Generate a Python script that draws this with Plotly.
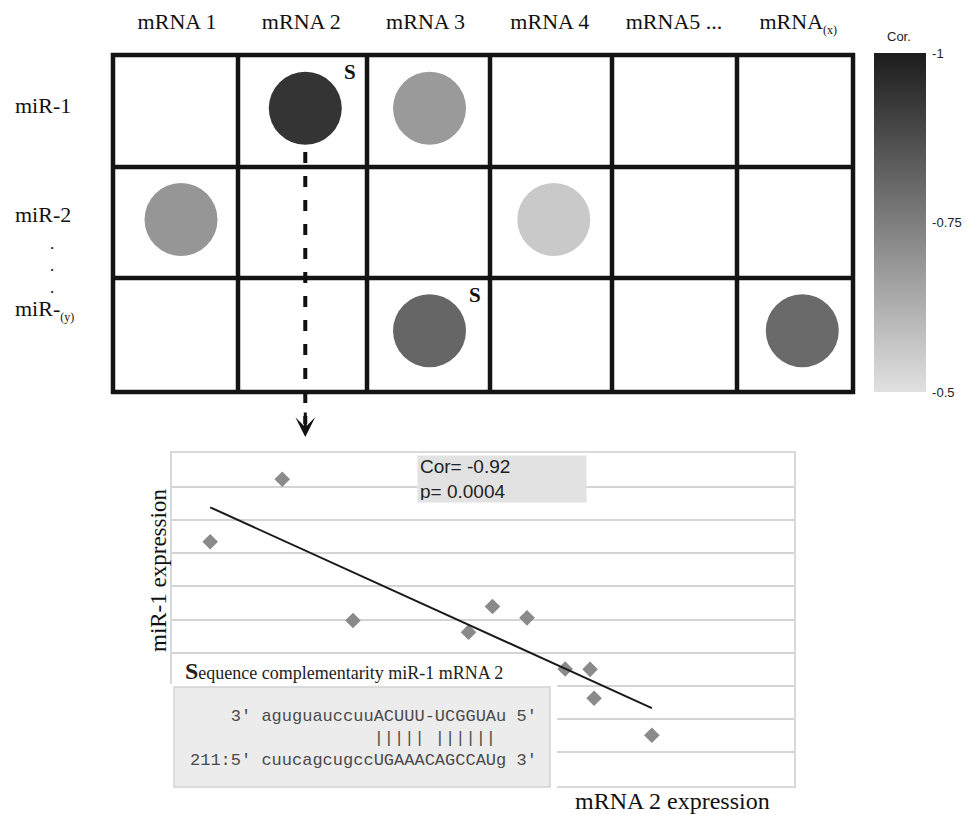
import numpy as np
import plotly.graph_objects as go

# page offset of the plot div (default body margin) and figure size
OFF = 8
W, H = 970 - OFF, 815 - OFF

# ---------------- data ----------------
mrna_labels = ["mRNA 1", "mRNA 2", "mRNA 3", "mRNA 4", "mRNA5\u00a0...",
               "mRNA<sub><span style='font-size:12px'>(x)</span></sub>"]
mirna_labels = ["miR-1", "miR-2", "miR-<sub><span style='font-size:12px'>(y)</span></sub>"]

pair_mrna = [1, 2, 0, 3, 2, 5]          # column index of each significant pair
pair_mirna = [0, 0, 1, 1, 2, 2]         # row index of each significant pair
pair_cor = [-0.94, -0.68, -0.69, -0.56, -0.81, -0.80]

seed_mrna = [1, 2]                      # pairs with sequence complementarity (S)
seed_mirna = [0, 2]

cbar_ticks = [-1, -0.75, -0.5]

mrna2_expr = [1.15, 3.32, 5.45, 8.93, 9.65, 10.69, 11.84, 12.59, 12.71, 14.45]
mir1_expr = [7.34, 9.22, 4.97, 4.62, 5.39, 5.05, 3.51, 3.50, 2.63, 1.52]

cor_label = "Cor= -0.92"
p_label = "p= 0.0004"

seq_title = "Sequence complementarity miR-1 mRNA 2"
seq_lines = [
    "    3' aguguauccuuACUUU-UCGGUAu 5'",
    "                  ||||| ||||||",
    "211:5' cuucagcugccUGAAACAGCCAUg 3'",
]

# ---------------- helpers (page pixels -> paper) ----------------
def px(x):
    return (x - OFF) / W

def py(y):
    return 1 - (y - OFF) / H

SERIF = "Liberation Serif, Times New Roman, serif"
SANS = "Liberation Sans, Arial, sans-serif"
MONO = "Liberation Mono, Courier New, monospace"

fig = go.Figure()

# correlation circles
fig.add_trace(go.Scatter(
    x=pair_mrna, y=pair_mirna, mode="markers",
    xaxis="x", yaxis="y", hoverinfo="skip", showlegend=False,
    marker=dict(
        size=73, color=[-c for c in pair_cor], cmin=0.5, cmax=1,
        colorscale=[[0, "#e1e1e1"], [0.5, "#7e7e7e"], [1, "#1c1c1c"]],
        line=dict(width=0), showscale=True,
        colorbar=dict(
            thickness=52, thicknessmode="pixels",
            len=339, lenmode="pixels",
            x=px(874), xanchor="left", y=py(53), yanchor="top",
            xpad=0, ypad=0, outlinewidth=0,
            tickvals=[-t for t in cbar_ticks],
            ticktext=[f"{t:g}" for t in cbar_ticks],
            ticks="outside", ticklen=4, tickcolor="rgba(0,0,0,0)",
            tickfont=dict(family=SANS, size=13, color="#222"),
        ),
    ),
))

# expression scatter
fig.add_trace(go.Scatter(
    x=mrna2_expr, y=mir1_expr, mode="markers", xaxis="x2", yaxis="y2",
    hoverinfo="skip", showlegend=False,
    marker=dict(symbol="diamond", size=12, color="#8a8a8a", line=dict(width=0)),
))

# linear trend line
slope, intercept = np.polyfit(mrna2_expr, mir1_expr, 1)
tx = np.array([min(mrna2_expr), max(mrna2_expr)])
fig.add_trace(go.Scatter(
    x=tx, y=slope * tx + intercept, mode="lines", xaxis="x2", yaxis="y2",
    hoverinfo="skip", showlegend=False, line=dict(color="#1a1a1a", width=2),
))

shapes = []
# grid of the matrix
col_edges = [113, 238, 367, 490, 612, 737, 853]
row_edges = [55, 167, 278, 392]
for cx in col_edges:
    shapes.append(dict(type="line", xref="paper", yref="paper", x0=px(cx), x1=px(cx),
                       y0=py(row_edges[0] - 2), y1=py(row_edges[-1] + 2),
                       line=dict(color="#141414", width=4.5)))
for ry in row_edges:
    shapes.append(dict(type="line", xref="paper", yref="paper", x0=px(col_edges[0] - 2),
                       x1=px(col_edges[-1] + 2), y0=py(ry), y1=py(ry),
                       line=dict(color="#141414", width=4.5)))
# dashed connector
shapes.append(dict(type="line", xref="x", yref="paper", x0=1, x1=1, y0=py(152), y1=py(424),
                   line=dict(color="#111", width=4, dash="11px,13px")))
# panel for the sequence alignment
shapes.append(dict(type="rect", xref="paper", yref="paper", x0=px(170), x1=px(557),
                   y0=py(684), y1=py(792), fillcolor="white", line=dict(width=0), layer="above"))
shapes.append(dict(type="rect", xref="paper", yref="paper", x0=px(174), x1=px(550),
                   y0=py(687), y1=py(787), fillcolor="#ececec",
                   line=dict(color="#d2d2d2", width=1.5), layer="above"))

annotations = []
# colorbar title
annotations.append(dict(x=px(899), xref="paper", y=py(37), yref="paper",
                        xanchor="center", yanchor="middle", text="Cor.", showarrow=False,
                        font=dict(family=SANS, size=13, color="#222")))
# arrow head
annotations.append(dict(x=1, xref="x", y=py(437), yref="paper", ax=0, ay=-26, text="",
                        showarrow=True, arrowhead=3, arrowwidth=3, arrowsize=1.1,
                        arrowcolor="#111"))
# S marks
for m, r in zip(seed_mrna, seed_mirna):
    annotations.append(dict(x=m, y=r, xref="x", yref="y", xshift=45, yshift=36,
                            xanchor="center", yanchor="middle",
                            text="<b>S</b>", showarrow=False,
                            font=dict(family=SERIF, size=21, color="#111")))
# row labels
row_shift = [3, 5, 21]
for j, lab in enumerate(mirna_labels):
    annotations.append(dict(x=px(13), xref="paper", xanchor="left", y=j, yref="y",
                            yanchor="middle", yshift=row_shift[j], text=lab, showarrow=False,
                            font=dict(family=SERIF, size=22, color="#111")))
annotations.append(dict(x=px(52), xref="paper", xanchor="center", y=py(265), yref="paper",
                        yanchor="middle", text=".<br>.<br>.", showarrow=False,
                        font=dict(family=SERIF, size=17, color="#111")))
# correlation box
annotations.append(dict(x=px(417), xref="paper", xanchor="left", y=py(455), yref="paper",
                        yanchor="top", text=f"{cor_label}<br>{p_label}", align="left",
                        showarrow=False, bgcolor="#e2e2e2", width=164, height=42,
                        borderpad=2, valign="middle",
                        font=dict(family=SANS, size=19, color="#222")))
# sequence title
annotations.append(dict(x=px(183), xref="paper", xanchor="left", y=py(671), yref="paper",
                        yanchor="middle",
                        text="<span style='font-size:24px'><b>" + seq_title[0] + "</b></span>" + seq_title[1:],
                        showarrow=False, font=dict(family=SERIF, size=18, color="#222")))
# sequence alignment
annotations.append(dict(x=px(188), xref="paper", xanchor="left", y=py(738), yref="paper",
                        yanchor="middle", align="left",
                        text="<br>".join(s.replace(" ", "\u00a0") for s in seq_lines),
                        showarrow=False, font=dict(family=MONO, size=17, color="#4a4a4a")))
# axis labels
annotations.append(dict(x=px(158), xref="paper", y=py(571), yref="paper", textangle=-90,
                        xanchor="center", yanchor="middle",
                        text="miR-1 expression", showarrow=False,
                        font=dict(family=SERIF, size=23, color="#111")))
annotations.append(dict(x=px(672), xref="paper", y=py(801), yref="paper",
                        xanchor="center", yanchor="middle",
                        text="mRNA 2 expression", showarrow=False,
                        font=dict(family=SERIF, size=24, color="#111")))

fig.update_layout(
    width=W, height=H, margin=dict(l=0, r=0, t=0, b=0),
    paper_bgcolor="white", plot_bgcolor="rgba(0,0,0,0)",
    shapes=shapes, annotations=annotations,
    xaxis=dict(domain=[px(118.9), px(864.4)], range=[-0.5, 5.5], side="top", anchor="y",
               tickmode="array", tickvals=list(range(len(mrna_labels))), ticktext=mrna_labels,
               tickfont=dict(family=SERIF, size=22, color="#111"),
               showgrid=False, zeroline=False, showline=False, ticks="",
               ticklabelstandoff=18, ticklabelshift=-4),
    yaxis=dict(domain=[py(386.3), py(52.7)], range=[2.5, -0.5], anchor="x",
               showticklabels=False, showgrid=False, zeroline=False, showline=False),
    xaxis2=dict(domain=[px(172), px(794)], range=[0, 18.73], anchor="y2",
                showgrid=False, zeroline=False, showticklabels=False, ticks="",
                showline=True, mirror=True, linecolor="#d9d9d9", linewidth=2),
    yaxis2=dict(domain=[py(785.7), py(453.3)], range=[0, 10], anchor="x2",
                tick0=0, dtick=1, showgrid=True, gridcolor="#d4d4d4", gridwidth=2,
                showticklabels=False, zeroline=False, ticks="",
                showline=True, mirror=True, linecolor="#d9d9d9", linewidth=2),
)

fig.write_html("out.html", config={"displayModeBar": False})
